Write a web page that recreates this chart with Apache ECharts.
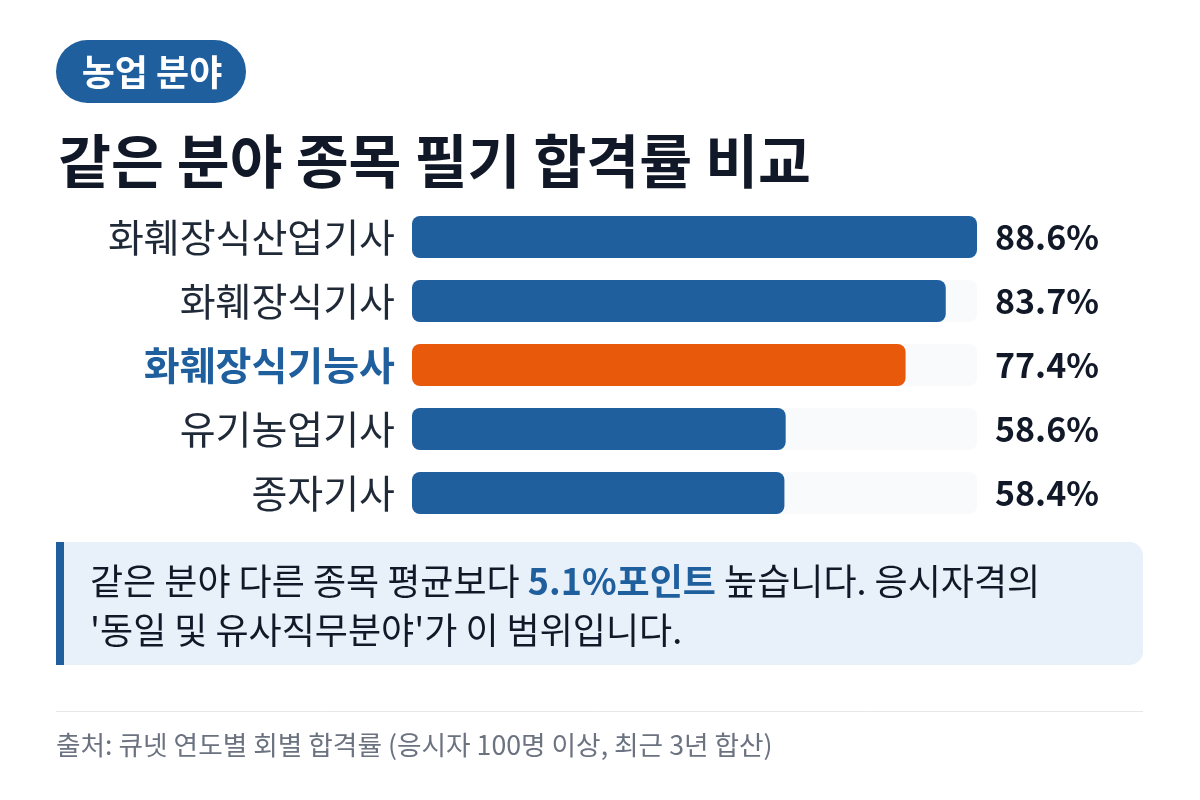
<!DOCTYPE html>
<html><head><meta charset="utf-8">
<script src="https://cdn.jsdelivr.net/npm/echarts@6/dist/echarts.min.js"></script>
<style>html,body{margin:0;padding:0;background:#fff;}#c{width:1200px;height:800px;}</style>
</head><body><div id="c"></div>
<script>
const badgeText = '농업 분야';
const titleText = '같은 분야 종목 필기 합격률 비교';
const categories = ['화훼장식산업기사', '화훼장식기사', '화훼장식기능사', '유기농업기사', '종자기사'];
const values = [88.6, 83.7, 77.4, 58.6, 58.4];
const highlight = '화훼장식기능사';
const calloutLine1a = '같은 분야 다른 종목 평균보다 ';
const calloutBold = '5.1%포인트';
const calloutLine1b = ' 높습니다. 응시자격의';
const calloutLine2 = "'동일 및 유사직무분야'가 이 범위입니다.";
const sourceText = '출처: 큐넷 연도별 회별 합격률 (응시자 100명 이상, 최근 3년 합산)';

const BLUE = '#1f5f9e', ORANGE = '#e8590c', DARK = '#111827';
const FONT = '"Noto Sans CJK KR", "Noto Sans", sans-serif';
const chart = echarts.init(document.getElementById('c'), null, {renderer: 'canvas'});
const vmax = Math.max(...values);

chart.setOption({
  animation: false,
  textStyle: {fontFamily: FONT},
  grid: {left: 412, right: 223, top: 205, bottom: 275, containLabel: false},
  xAxis: {type: 'value', min: 0, max: vmax, show: false},
  yAxis: [{
    type: 'category', data: categories, inverse: true,
    axisLine: {show: false}, axisTick: {show: false}, splitLine: {show: false},
    axisLabel: {
      margin: 17, fontSize: 39, color: '#1f2937', fontFamily: FONT,
      formatter: v => v === highlight ? '{h|' + v + '}' : v,
      rich: {h: {fontSize: 39, fontWeight: 'bold', color: BLUE, fontFamily: FONT}}
    }
  }, {
    type: 'category', data: values.map(v => v.toFixed(1) + '%'), inverse: true, position: 'right',
    axisLine: {show: false}, axisTick: {show: false}, splitLine: {show: false},
    axisLabel: {margin: 18, fontSize: 34, fontWeight: 'bold', color: DARK, fontFamily: FONT}
  }],
  series: [{
    type: 'bar', yAxisIndex: 0, barWidth: 42,
    data: values.map((v, i) => ({value: v, itemStyle: {color: categories[i] === highlight ? ORANGE : BLUE}})),
    itemStyle: {borderRadius: 8},
    showBackground: true,
    backgroundStyle: {color: '#f8fafc', borderRadius: 8}
  }],
  graphic: [
    {type: 'rect', left: 56, top: 40, shape: {width: 190, height: 63, r: 31.5}, style: {fill: BLUE}},
    {type: 'text', x: 152, y: 72, style: {text: badgeText, fill: '#fff', font: 'bold 36px ' + FONT, align: 'center', verticalAlign: 'middle'}},
    {type: 'text', x: 58, y: 161, style: {text: titleText, fill: DARK, font: 'bold 57.5px ' + FONT, align: 'left', verticalAlign: 'middle'}},
    {type: 'rect', left: 56, top: 542, shape: {width: 1087, height: 123, r: [0, 14, 14, 0]}, style: {fill: '#e8f0fa'}},
    {type: 'rect', left: 56, top: 542, shape: {width: 8, height: 123}, style: {fill: BLUE}},
    {type: 'text', x: 90, y: 606, style: {
      text: calloutLine1a + '{b|' + calloutBold + '}' + calloutLine1b + '\n' + calloutLine2,
      fill: DARK, font: '36px ' + FONT, lineHeight: 49, verticalAlign: 'middle',
      rich: {b: {fontWeight: 'bold', fill: BLUE, fontSize: 36, fontFamily: FONT, lineHeight: 49}}
    }},
    {type: 'line', shape: {x1: 56, y1: 711.5, x2: 1143, y2: 711.5}, style: {stroke: '#e5e7eb', lineWidth: 1}},
    {type: 'text', x: 56, y: 745, style: {text: sourceText, fill: '#6b7280', font: '26.7px ' + FONT, verticalAlign: 'middle'}}
  ]
});
</script></body></html>
